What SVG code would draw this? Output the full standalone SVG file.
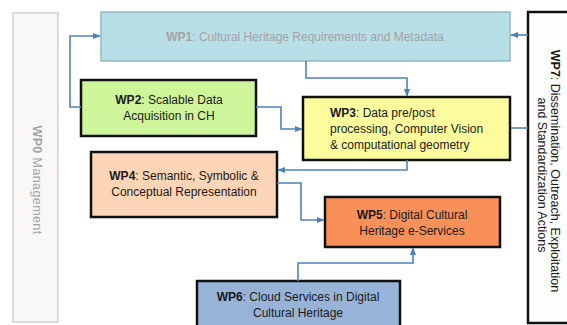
<svg xmlns="http://www.w3.org/2000/svg" width="567" height="325" viewBox="0 0 567 325">
<defs>
<marker id="arr" viewBox="0 0 10 10" refX="9" refY="5" markerWidth="5" markerHeight="5" orient="auto-start-reverse" markerUnits="strokeWidth">
<path d="M0,1 L10,5 L0,9 z" fill="#4f81bd"/>
</marker>
<style>
.t{font-family:"Liberation Sans",Arial,sans-serif;font-size:12px;fill:#1a1a1a}
.c{text-anchor:middle}
.b{font-weight:bold}
.g{fill:#a3a3a3}
.v{font-size:12.5px}
.box{stroke:#111;stroke-width:2.5}
.conn{fill:none;stroke:#4f81bd;stroke-width:1.6}
</style>
</defs>
<rect width="567" height="325" fill="#ffffff"/>
<g id="wp0">
<rect x="13" y="13" width="45" height="309" fill="#f9f8f7" stroke="#cfcfcf" stroke-width="1.5"/>
<text class="t g v" transform="translate(33,180) rotate(90)" text-anchor="middle" letter-spacing="0.4"><tspan class="b">WP0</tspan>  Management</text>
</g>
<g id="wp1">
<rect x="101" y="12" width="409" height="49" fill="#b8dfe8" stroke="#93b8c4" stroke-width="1.5"/>
<text class="t c g" x="305" y="41"><tspan class="b">WP1</tspan>: Cultural Heritage Requirements and Metadata</text>
</g>
<g id="wp2">
<rect class="box" x="81" y="80" width="175" height="56" fill="#cff59a"/>
<text class="t c" x="169" y="104"><tspan class="b">WP2</tspan>: Scalable Data</text>
<text class="t c" x="169" y="120">Acquisition in CH</text>
</g>
<g id="wp3">
<rect class="box" x="303" y="97" width="207" height="63" fill="#fdfc9c"/>
<text class="t" x="330" y="117"><tspan class="b">WP3</tspan>: Data pre/post</text>
<text class="t" x="330" y="133">processing, Computer Vision</text>
<text class="t" x="330" y="149">&amp; computational geometry</text>
</g>
<g id="wp4">
<rect class="box" x="91" y="152" width="186" height="65" fill="#fbd5b5"/>
<text class="t c" x="184" y="180"><tspan class="b">WP4</tspan>: Semantic, Symbolic &amp;</text>
<text class="t c" x="184" y="196">Conceptual Representation</text>
</g>
<g id="wp5">
<rect class="box" x="325" y="197" width="175" height="50" fill="#f99057"/>
<text class="t c" x="412" y="219"><tspan class="b">WP5</tspan>: Digital Cultural</text>
<text class="t c" x="412" y="235">Heritage e-Services</text>
</g>
<g id="wp6">
<rect class="box" x="197" y="281" width="203" height="50" fill="#97b4d8"/>
<text class="t c" x="298" y="301"><tspan class="b">WP6</tspan>: Cloud Services in Digital</text>
<text class="t c" x="298" y="317">Cultural Heritage</text>
</g>
<g id="wp7">
<rect class="box" x="528" y="12" width="45" height="311" fill="#fdfdfd"/>
<text class="t c v" transform="translate(551,171) rotate(90)"><tspan class="b">WP7</tspan>: Dissemination, Outreach, Exploitation</text>
<text class="t c v" transform="translate(538,175) rotate(90)">and Standardization Actions</text>
</g>
<g id="connectors">
<path class="conn" d="M81,107 H70 V36 H100" marker-end="url(#arr)"/>
<path class="conn" d="M306,61 V78 H407 V96" marker-end="url(#arr)"/>
<path class="conn" d="M256,107 H281 V129 H302" marker-end="url(#arr)"/>
<path class="conn" d="M407,160 V170 H278" marker-end="url(#arr)"/>
<path class="conn" d="M277,183 H301 V220 H324" marker-end="url(#arr)"/>
<path class="conn" d="M298,281 V263 H413 V248" marker-end="url(#arr)"/>
<path class="conn" d="M528,35 H511" marker-end="url(#arr)"/>
<path class="conn" d="M528,128 H511"/>
</g>
</svg>
